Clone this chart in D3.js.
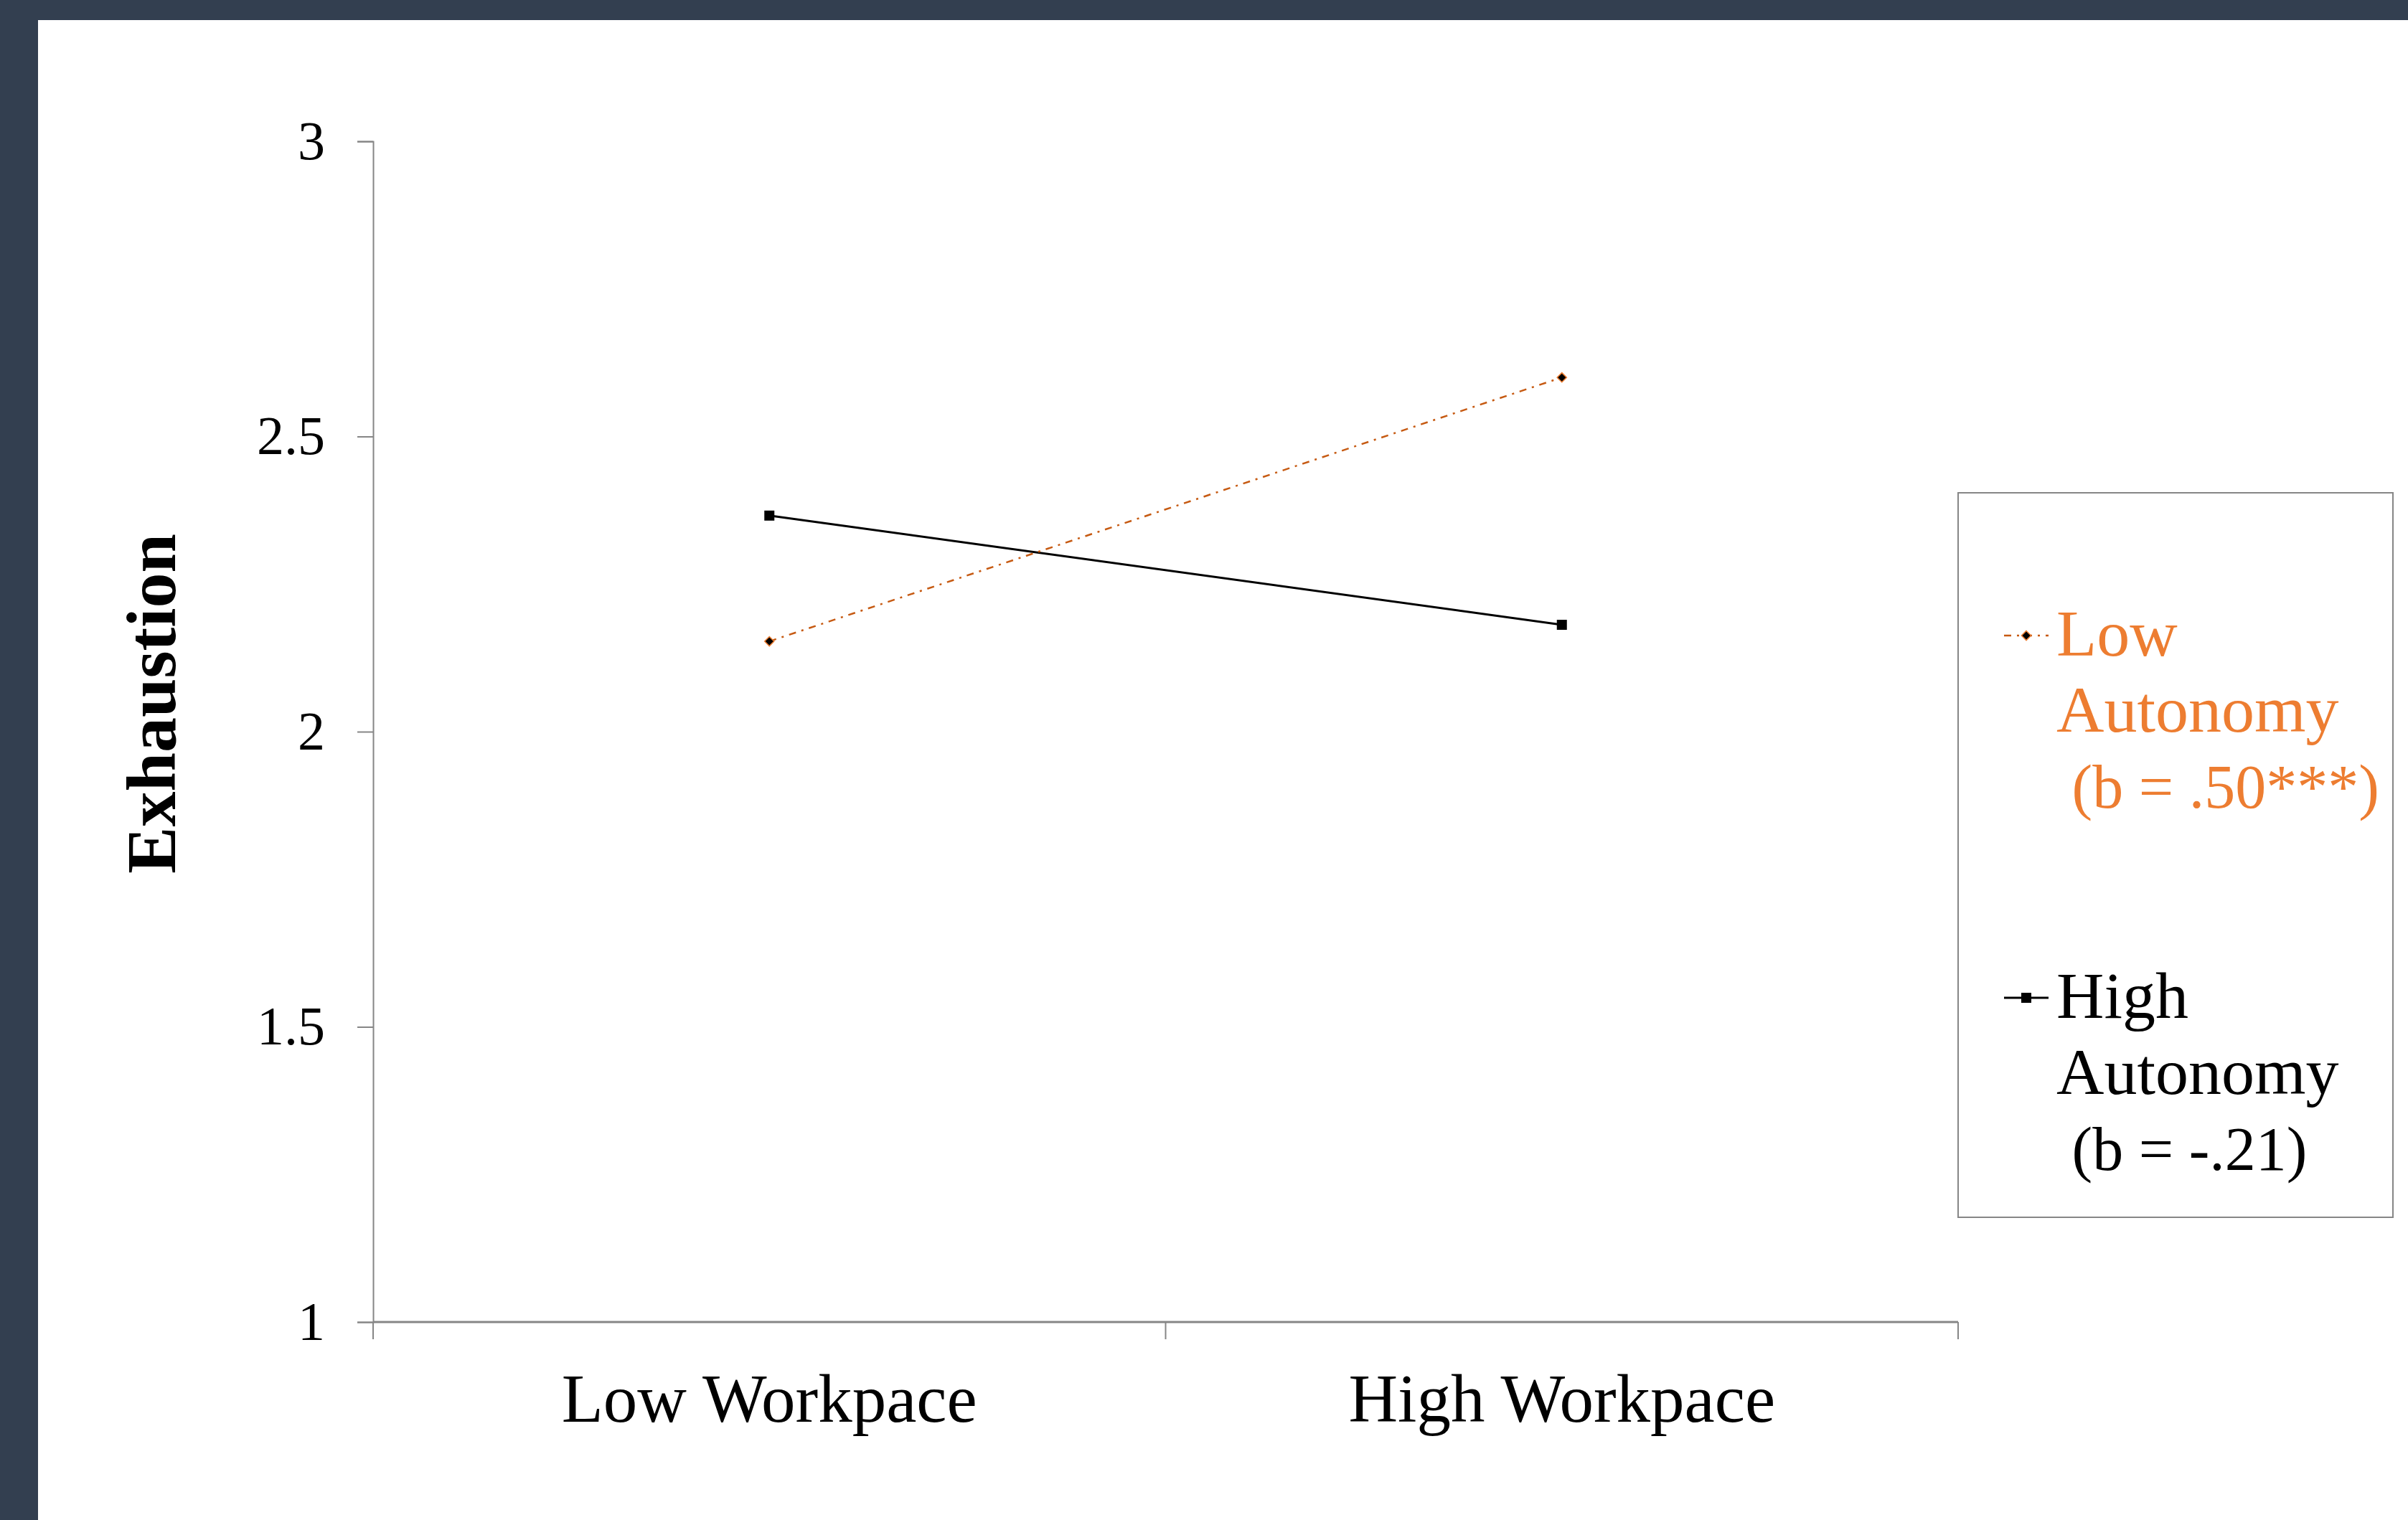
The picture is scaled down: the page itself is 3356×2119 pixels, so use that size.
<!DOCTYPE html>
<html>
<head>
<meta charset="utf-8">
<script src="https://cdn.jsdelivr.net/npm/d3@7"></script>
<style>
  body { margin: 0; background: #333f50; }
  svg { display: block; }
</style>
</head>
<body>
<div id="chart"></div>
<script>
// dados
var categories = ["Low Workpace", "High Workpace"];
var lowAutonomy = [2.153, 2.600];   // linha tracejada laranja
var highAutonomy = [2.366, 2.181];  // linha preta
var yTicks = [1, 1.5, 2, 2.5, 3];
var yTickLabels = ["1", "1.5", "2", "2.5", "3"];
var legendLow = ["Low", "Autonomy", " (b = .50***)"];
var legendHigh = ["High", "Autonomy", " (b = -.21)"];

var W = 3356, H = 2119;
var font = "'Liberation Serif', 'Times New Roman', serif";
var axisColor = "#868686";
var orangeLine = "#c65a12";
var orangeText = "#ed7d31";

var svg = d3.select('#chart').append('svg')
  .attr('width', W)
  .attr('height', H)
  .style('background-color', '#333f50');

// area branca
svg.append('rect')
  .attr('x', 53).attr('y', 28)
  .attr('width', W - 53).attr('height', H - 28)
  .attr('fill', '#ffffff');

var x = d3.scaleBand().domain(categories).range([520, 2729]).padding(0);
var y = d3.scaleLinear().domain([1, 3]).range([1843, 197]);
var cx = function(i) { return x(categories[i]) + x.bandwidth() / 2; };

// eixo Y
var yAxis = svg.append('g')
  .attr('transform', 'translate(520,0)')
  .call(d3.axisLeft(y)
    .tickValues(yTicks)
    .tickFormat(function(d, i) { return yTickLabels[i]; })
    .tickSize(22)
    .tickPadding(45));
yAxis.select('.domain').attr('stroke', axisColor).attr('stroke-width', 2);
yAxis.selectAll('.tick line').attr('stroke', axisColor).attr('stroke-width', 2);
yAxis.selectAll('.tick text')
  .attr('font-family', font)
  .attr('font-size', 76)
  .attr('fill', '#000');

// eixo X
var xAxis = svg.append('g')
  .attr('transform', 'translate(0,' + y(1) + ')')
  .call(d3.axisBottom(x).tickSize(0).tickPadding(0));
xAxis.select('.domain').remove();
xAxis.selectAll('.tick text')
  .attr('dy', null)
  .attr('y', 139)
  .attr('font-family', font)
  .attr('font-size', 95)
  .attr('fill', '#000');

svg.append('line')
  .attr('x1', x.range()[0]).attr('x2', x.range()[1])
  .attr('y1', y(1)).attr('y2', y(1))
  .attr('stroke', axisColor).attr('stroke-width', 3);

var bounds = categories.map(function(c) { return x(c); }).concat([x.range()[1]]);
svg.selectAll('.xtick').data(bounds).enter().append('line')
  .attr('class', 'xtick')
  .attr('x1', function(d) { return d; }).attr('x2', function(d) { return d; })
  .attr('y1', y(1)).attr('y2', y(1) + 24)
  .attr('stroke', axisColor).attr('stroke-width', 2);

// titulo do eixo Y
svg.append('text')
  .attr('transform', 'translate(244,981) rotate(-90)')
  .attr('text-anchor', 'middle')
  .attr('font-family', font)
  .attr('font-weight', 'bold')
  .attr('font-size', 98)
  .attr('fill', '#000')
  .text('Exhaustion');

// linhas
var line = d3.line()
  .x(function(d, i) { return cx(i); })
  .y(function(d) { return y(d); });

svg.append('path')
  .datum(highAutonomy)
  .attr('d', line)
  .attr('fill', 'none')
  .attr('stroke', '#000')
  .attr('stroke-width', 3);

svg.append('path')
  .datum(lowAutonomy)
  .attr('d', line)
  .attr('fill', 'none')
  .attr('stroke', orangeLine)
  .attr('stroke-width', 2.5)
  .attr('stroke-dasharray', '10,8,3,8');

// marcadores
svg.selectAll('.sq').data(highAutonomy).enter().append('rect')
  .attr('class', 'sq')
  .attr('x', function(d, i) { return cx(i) - 7; })
  .attr('y', function(d) { return y(d) - 7; })
  .attr('width', 14).attr('height', 14)
  .attr('fill', '#000');

var diamond = d3.symbol().type(d3.symbolDiamond2).size(110);
svg.selectAll('.dm').data(lowAutonomy).enter().append('path')
  .attr('class', 'dm')
  .attr('transform', function(d, i) { return 'translate(' + cx(i) + ',' + y(d) + ')'; })
  .attr('d', diamond)
  .attr('fill', '#000')
  .attr('stroke', orangeText)
  .attr('stroke-width', 1.5);

// legenda
var leg = svg.append('g');
leg.append('rect')
  .attr('x', 2729).attr('y', 687)
  .attr('width', 606).attr('height', 1010)
  .attr('fill', '#fff')
  .attr('stroke', axisColor).attr('stroke-width', 2);

var items = [
  { lines: legendLow, color: orangeText, y: 886, dash: '10,8,3,8', stroke: orangeLine, sym: 'diamond' },
  { lines: legendHigh, color: '#000', y: 1391, dash: null, stroke: '#000', sym: 'square' }
];

items.forEach(function(it) {
  leg.append('line')
    .attr('x1', 2793).attr('x2', 2855)
    .attr('y1', it.y).attr('y2', it.y)
    .attr('stroke', it.stroke)
    .attr('stroke-width', it.dash ? 2.5 : 3)
    .attr('stroke-dasharray', it.dash);
  if (it.sym === 'diamond') {
    leg.append('path')
      .attr('transform', 'translate(2824,' + it.y + ')')
      .attr('d', diamond)
      .attr('fill', '#000')
      .attr('stroke', orangeText).attr('stroke-width', 1.5);
  } else {
    leg.append('rect')
      .attr('x', 2817).attr('y', it.y - 7)
      .attr('width', 14).attr('height', 14)
      .attr('fill', '#000');
  }
  var t = leg.append('text')
    .attr('font-family', font)
    .attr('fill', it.color)
    .attr('xml:space', 'preserve')
    .style('white-space', 'pre');
  it.lines.forEach(function(s, i) {
    t.append('tspan')
      .attr('x', 2866)
      .attr('y', it.y + 28 + i * 106)
      .attr('font-size', i === 2 ? 86 : 92)
      .text(s);
  });
});
</script>
</body>
</html>
